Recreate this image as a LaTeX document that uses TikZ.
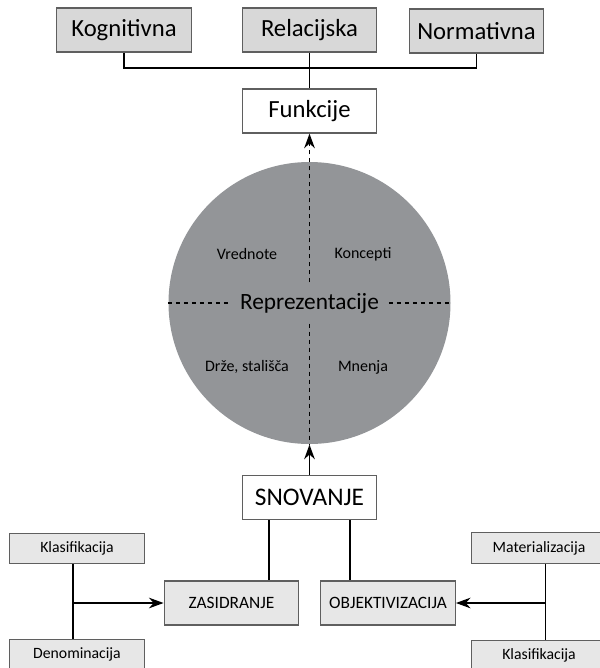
\documentclass[tikz,border=0pt]{standalone}
\usepackage{fontspec}
\setmainfont{Carlito}
\usetikzlibrary{arrows.meta}
\definecolor{boxgray}{RGB}{216,216,216}
\definecolor{palegray}{RGB}{231,231,231}
\definecolor{circgray}{RGB}{147,149,152}
\definecolor{edgegray}{RGB}{95,95,95}
\tikzset{
	bigbox/.style={draw=edgegray, fill=boxgray, minimum width=101pt, minimum height=33pt, inner sep=0pt, font=\fontsize{18.5}{22}\selectfont},
	whitebox/.style={bigbox, fill=white},
	midbox/.style={bigbox, fill=palegray, font=\fontsize{13}{15}\selectfont},
	smallbox/.style={bigbox, fill=palegray, minimum height=23pt, font=\fontsize{11.8}{14}\selectfont},
	quad/.style={font=\fontsize{12}{14}\selectfont},
}
\begin{document}
\begin{tikzpicture}[>={Stealth[length=11pt,width=8pt]}, x=0.75pt, y=-0.75pt, line width=0.9pt]
	\clip (0,0) rectangle (600,668);
	\node[bigbox] (kog) at (124,30) {Kognitivna};
	\node[bigbox] (rel) at (309.5,30) {Relacijska};
	\node[bigbox] (norm) at (476.5,31) {Normativna};
	\node[whitebox] (funk) at (309.5,111) {Funkcije};
	\node[circle, fill=circgray, minimum size=211.5pt, inner sep=0pt] (circ) at (309.5,303) {};
	\node[font=\fontsize{17.5}{20}\selectfont, inner xsep=7pt, inner ysep=0pt, minimum height=30pt] (rep) at (309.5,303) {Reprezentacije};
	\node[quad] (vred) at (247,254) {Vrednote};
	\node[quad] (konc) at (363,254) {Koncepti};
	\node[quad] (drze) at (247,367) {Drže, stališča};
	\node[quad] (mnen) at (363,367) {Mnenja};
	\node[whitebox, font=\fontsize{19}{22}\selectfont] (snov) at (309.5,497.5) {SNOVANJE};
	\node[midbox] (zas) at (231.5,603) {ZASIDRANJE};
	\node[midbox] (obj) at (388,603) {OBJEKTIVIZACIJA};
	\node[smallbox] (klasl) at (77,548.5) {Klasifikacija};
	\node[smallbox] (denom) at (77,654.5) {Denominacija};
	\node[smallbox] (mat) at (539,548) {Materializacija};
	\node[smallbox] (klasr) at (539,655.5) {Klasifikacija};

	\coordinate (bus) at (309.5,68);
	\draw (kog) |- (bus) -| (norm);
	\draw (rel) -- (funk);
	\draw[dashed, ->] (rep) -- (funk);
	\draw[dashed] (rep) -- (circ.south);
	\draw[dashed] (circ.west) -- (rep);
	\draw[dashed] (rep) -- (circ.east);
	\draw[->] (snov) -- (circ.south);
	\draw ([xshift=-30.4pt]snov.south) -- ([xshift=-30.4pt]snov.south |- zas.north);
	\draw ([xshift=30.4pt]snov.south) -- ([xshift=30.4pt]snov.south |- obj.north);
	\draw ([xshift=-3pt]klasl.south) -- ([xshift=-3pt]denom.north);
	\coordinate (jl) at ([xshift=-3pt]klasl.south |- zas.west);
	\draw[->] (jl) -- (zas);
	\draw ([xshift=5pt]mat.south) -- ([xshift=5pt]klasr.north);
	\coordinate (jr) at ([xshift=5pt]mat.south |- obj.east);
	\draw[->] (jr) -- (obj);
\end{tikzpicture}
\end{document}
